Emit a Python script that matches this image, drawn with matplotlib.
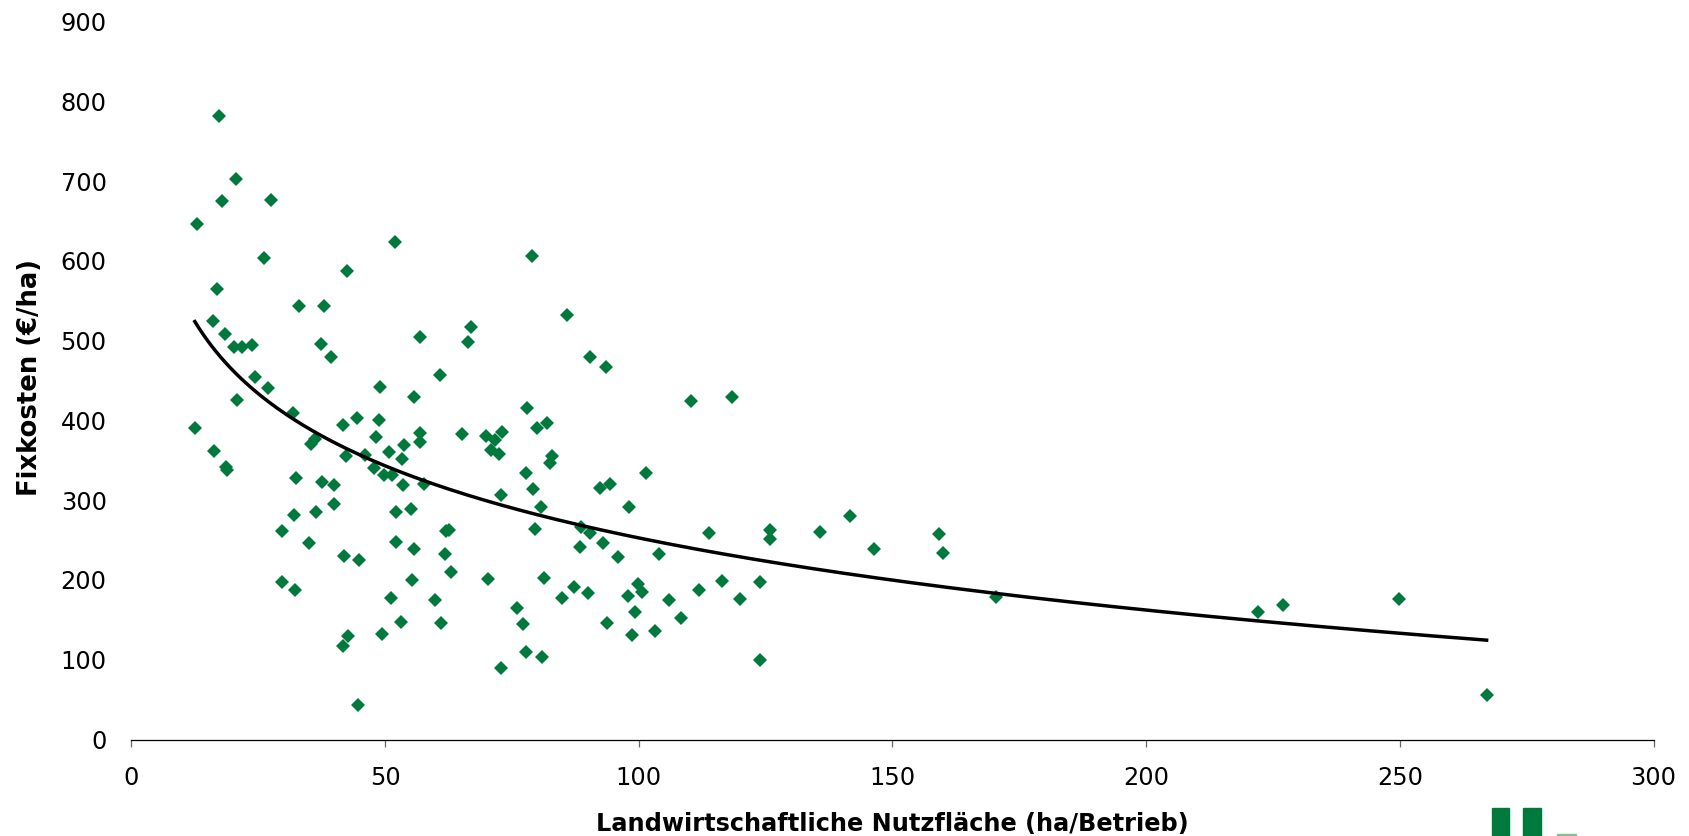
import numpy as np
import matplotlib
matplotlib.use("Agg")
import matplotlib.pyplot as plt
from matplotlib.patches import Rectangle

# Landwirtschaftliche Nutzfläche (ha/Betrieb) and Fixkosten (€/ha)
flaeche = [
    12.9, 17.3, 17.9, 20.6, 27.6, 26.1, 16.9, 16.0, 18.4, 20.2,
    21.8, 23.7, 24.4, 26.9, 20.9, 12.5, 16.3, 18.6, 18.8, 33.1,
    31.9, 42.4, 37.9, 37.4, 39.3, 29.7, 32.0, 32.5, 29.7, 32.3,
    35.1, 35.3, 36.1, 36.3, 37.5, 40.0, 39.9, 41.7, 42.2, 41.9,
    44.4, 44.9, 42.7, 41.8, 44.6, 46.0, 47.8, 48.2, 49.0, 48.8,
    49.7, 50.8, 51.3, 52.0, 53.7, 53.4, 53.5, 52.1, 52.1, 51.2,
    53.1, 49.3, 55.6, 56.8, 56.8, 56.8, 55.1, 55.6, 55.3, 57.7,
    60.9, 59.8, 61.1, 62.0, 62.5, 61.9, 63.0, 65.2, 66.3, 66.9,
    69.9, 70.3, 70.9, 71.6, 72.5, 73.0, 72.9, 72.8, 75.9, 77.2,
    77.8, 78.0, 77.8, 79.2, 78.9, 79.9, 79.6, 80.7, 80.9, 81.3,
    82.0, 82.8, 82.5, 84.8, 85.8, 87.2, 88.7, 88.4, 90.4, 89.9,
    90.3, 93.5, 92.4, 94.3, 93.0, 93.8, 96.0, 98.0, 97.8, 98.6,
    99.2, 99.9, 100.6, 101.4, 103.1, 103.9, 105.9, 108.3, 110.3, 111.9,
    113.8, 116.5, 118.4, 120.0, 123.9, 123.9, 125.9, 125.9, 135.7, 141.6,
    146.4, 159.2, 159.9, 170.4, 222.1, 227.0, 249.9, 267.1,
]
fixkosten = [
    646, 781, 675, 702, 676, 604, 565, 525, 508, 492,
    492, 494, 454, 441, 426, 391, 362, 342, 338, 544,
    409, 587, 543, 496, 480, 261, 282, 328, 198, 188,
    246, 371, 377, 285, 323, 319, 295, 394, 355, 230,
    403, 225, 130, 117, 43, 357, 340, 379, 442, 400,
    332, 361, 332, 623, 369, 351, 319, 285, 248, 178,
    147, 132, 429, 505, 384, 373, 289, 239, 200, 320,
    457, 175, 146, 261, 263, 233, 210, 383, 498, 517,
    381, 201, 363, 375, 358, 386, 306, 90, 165, 145,
    110, 416, 334, 314, 606, 391, 264, 291, 103, 202,
    397, 356, 346, 178, 532, 191, 267, 241, 259, 184,
    479, 467, 315, 320, 246, 146, 229, 291, 180, 131,
    160, 195, 185, 334, 136, 232, 175, 152, 424, 188,
    259, 199, 429, 176, 197, 100, 263, 251, 260, 280,
    239, 257, 234, 179, 160, 168, 176, 56,
]

x_ticks = [0, 50, 100, 150, 200, 250, 300]
y_ticks = [0, 100, 200, 300, 400, 500, 600, 700, 800, 900]

gruen = "#007A3C"

plt.rcParams["font.family"] = "DejaVu Sans"

fig = plt.figure(figsize=(16.89, 8.36), dpi=100)
ax = fig.add_axes([0.0778, 0.1154, 0.9012, 0.8589])

x = np.array(flaeche)
y = np.array(fixkosten)

ax.plot(x, y, linestyle="none", marker="D", markersize=7.2,
        markeredgewidth=0, color=gruen, zorder=2)

# logarithmische Trendlinie (wie in Excel)
b, a = np.polyfit(np.log(x), y, 1)
xt = np.linspace(x.min(), x.max(), 300)
ax.plot(xt, a + b * np.log(xt), color="black", lw=2.5, zorder=3)

ax.set_xlim(0, 300)
ax.set_ylim(0, 900)
ax.set_xticks(x_ticks)
ax.set_yticks(y_ticks)

for s in ["top", "right", "left"]:
    ax.spines[s].set_visible(False)
ax.spines["bottom"].set_linewidth(0.9)
ax.spines["bottom"].set_color("black")

ax.tick_params(axis="x", direction="out", length=5.3, width=0.9,
               color="#666666", pad=14, labelsize=17.3)
ax.tick_params(axis="y", length=0, pad=17.8, labelsize=17.3)

ax.set_xlabel("Landwirtschaftliche Nutzfläche (ha/Betrieb)",
              fontsize=17.3, fontweight="bold")
ax.xaxis.set_label_coords(0.5, (0.0293 - 0.1154) / 0.8589)
ax.set_ylabel("Fixkosten (€/ha)", fontsize=18.6, fontweight="bold")
ax.yaxis.set_label_coords(0.0255, 0.549, transform=fig.transFigure)

# kleines Logo unten rechts
fig.add_artist(Rectangle((0.8835, 0.0), 0.0101, 0.0331,
                         transform=fig.transFigure, color=gruen))
fig.add_artist(Rectangle((0.9019, 0.0), 0.0103, 0.0331,
                         transform=fig.transFigure, color=gruen))
fig.add_artist(Rectangle((0.9217, 0.0), 0.0114, 0.0018,
                         transform=fig.transFigure, color="#7fbf9a"))

fig.savefig("out.png", dpi=100)
